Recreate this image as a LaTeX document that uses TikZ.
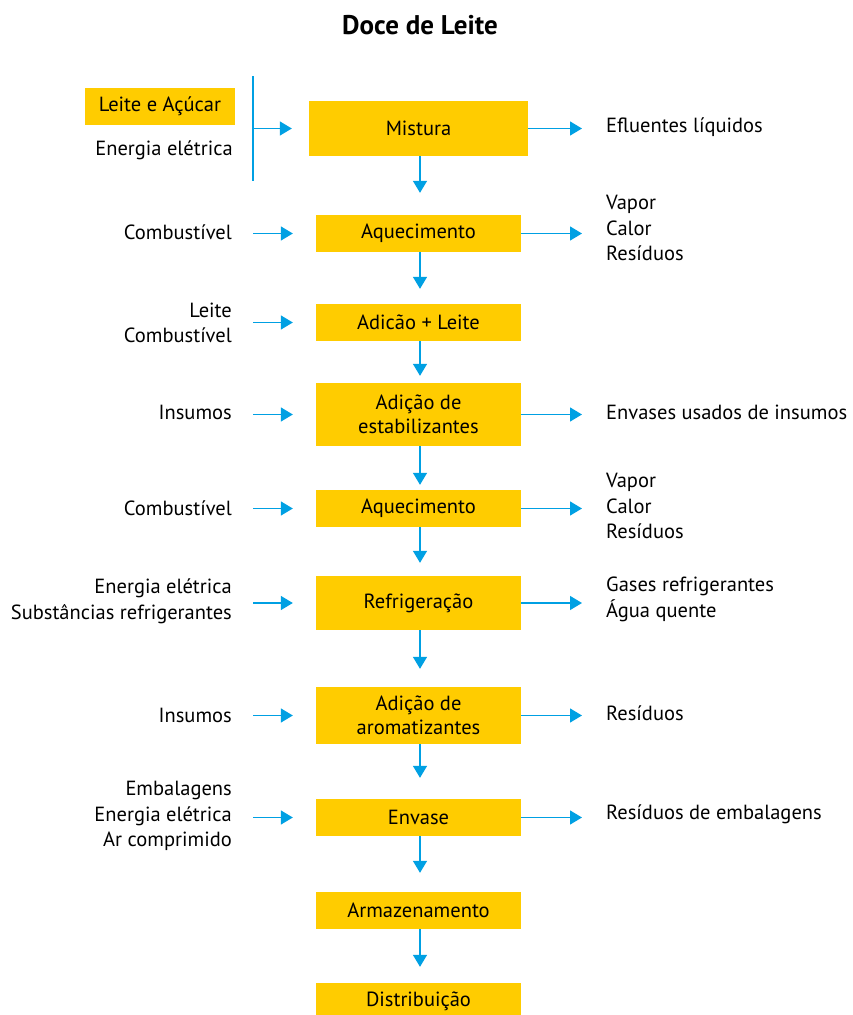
\documentclass[tikz,border=0pt]{standalone}
\usepackage{fontspec}
\setmainfont{PT Sans}
\usetikzlibrary{arrows.meta}
\definecolor{ybox}{RGB}{255,204,0}
\definecolor{barrow}{RGB}{0,160,227}
\newcommand\lstr{\rule[-3pt]{0pt}{20pt}}
\begin{document}
\begin{tikzpicture}[x=1pt,y=-1pt,
  box/.style={fill=ybox, draw=none, inner sep=0pt, minimum width=205pt, minimum height=37pt,
    font=\fontsize{20.5}{24.5}\selectfont, align=center},
  arr/.style={draw=barrow, line width=1.4pt, -{Triangle[length=12pt,width=14pt]}},
  plainline/.style={draw=barrow, line width=1.4pt},
  gap/.style={shorten >=#1},
  lbl/.style={font=\fontsize{20.5}{25.5}\selectfont, inner sep=0pt},
  ltxt/.style={lbl, anchor=east, align=right},
  rtxt/.style={lbl, anchor=west, align=left}]
\useasboundingbox (0,0) rectangle (852,1015);
\fill[white] (0,0) rectangle (852,1015);

\node[font=\fontsize{27}{30}\selectfont\bfseries, inner sep=0pt] (title) at (420,25) {Doce de Leite};

% process boxes
\node[box, minimum width=219pt, minimum height=55pt] (b1) at (418.5,128.5) {Mistura};
\node[box] (b2) at (418.5,233.5) {Aquecimento};
\node[box] (b3) at (418.5,322.5) {Adicão + Leite};
\node[box, minimum height=63pt] (b4) at (418.5,414.5) {Adição de\\estabilizantes};
\node[box] (b5) at (418.5,508.5) {Aquecimento};
\node[box, minimum height=54pt] (b6) at (418.5,603) {Refrigeração};
\node[box, minimum height=57pt] (b7) at (418.5,715.5) {Adição de\\aromatizantes};
\node[box] (b8) at (418.5,817.5) {Envase};
\node[box] (b9) at (418.5,910.5) {Armazenamento};
\node[box] (b10) at (418.5,1001.5) {Distribuição};

% down arrows
\draw[arr, gap=22pt] (b1.south -| 420,0) -- (b2.north -| 420,0);
\draw[arr, gap=15pt] (b2.south -| 420,0) -- (b3.north -| 420,0);
\draw[arr, gap=7pt] (b3.south -| 420,0) -- (b4.north -| 420,0);
\draw[arr, gap=5pt] (b4.south -| 420,0) -- (b5.north -| 420,0);
\draw[arr, gap=13pt] (b5.south -| 420,0) -- (b6.north -| 420,0);
\draw[arr, gap=18pt] (b6.south -| 420,0) -- (b7.north -| 420,0);
\draw[arr, gap=21pt] (b7.south -| 420,0) -- (b8.north -| 420,0);
\draw[arr, gap=19pt] (b8.south -| 420,0) -- (b9.north -| 420,0);
\draw[arr, gap=16pt] (b9.south -| 420,0) -- (b10.north -| 420,0);

% inputs for Mistura
\node[box, minimum width=150pt, minimum height=37pt] (in1) at (160,106.5) {Leite e Açúcar};
\node[lbl] (in1b) at (164,150) {Energia elétrica};
\coordinate (v1) at (253,76);
\coordinate (v2) at (253,181);
\coordinate (vin) at (253,128.5);
\draw[plainline] (v1) -- (v2);
\draw[arr, gap=17pt] (vin) -- (b1.west);

% left inputs
\foreach \b in {b2,b3,b4,b5,b6,b7,b8}{
  \coordinate (L\b) at (253,0 |- \b.center);
  \draw[arr, gap=23pt] (L\b) -- (\b.west);
}
\node[ltxt] (t2) at (232,232) {\lstr Combustível};
\node[ltxt] (t3) at (232,323) {\lstr Leite\\\lstr Combustível};
\node[ltxt] (t4) at (232,412) {\lstr Insumos};
\node[ltxt] (t5) at (232,508) {\lstr Combustível};
\node[ltxt] (t6) at (232,600) {\lstr Energia elétrica\\\lstr Substâncias refrigerantes};
\node[ltxt] (t7) at (232,715) {\lstr Insumos};
\node[ltxt] (t8) at (232,815) {\lstr Embalagens\\\lstr Energia elétrica\\\lstr Ar comprimido};

% outputs
\foreach \b in {b1,b2,b4,b5,b6,b7,b8}{
  \coordinate (R\b) at (582,0 |- \b.center);
  \draw[arr] (\b.east) -- (R\b);
}
\node[rtxt] (o1) at (606,126) {\lstr Efluentes líquidos};
\node[rtxt] (o2) at (606,228) {\lstr Vapor\\\lstr Calor\\\lstr Resíduos};
\node[rtxt] (o4) at (606,412) {\lstr Envases usados de insumos};
\node[rtxt] (o5) at (606,506) {\lstr Vapor\\\lstr Calor\\\lstr Resíduos};
\node[rtxt] (o6) at (606,598) {\lstr Gases refrigerantes\\\lstr Água quente};
\node[rtxt] (o7) at (606,713) {\lstr Resíduos};
\node[rtxt] (o8) at (606,813) {\lstr Resíduos de embalagens};
\end{tikzpicture}
\end{document}
